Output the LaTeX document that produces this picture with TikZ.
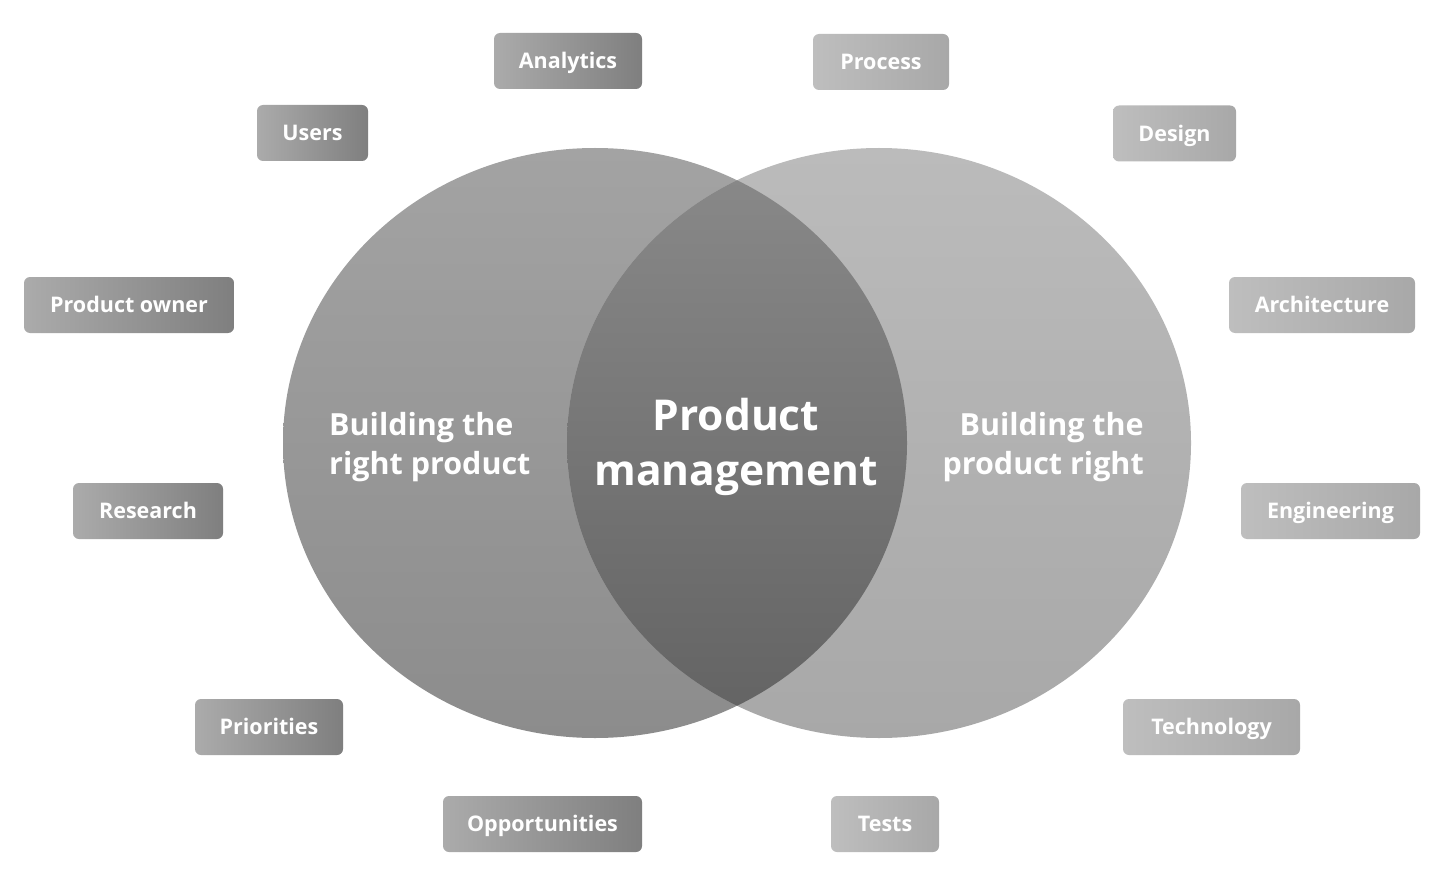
\documentclass[tikz,border=0pt]{standalone}
\usepackage{fontspec}
\setmainfont{Open Sans}
\usetikzlibrary{shapes.geometric}
\definecolor{lboxL}{HTML}{ABABAB}
\definecolor{lboxR}{HTML}{7F7F7F}
\definecolor{rboxL}{HTML}{BEBEBE}
\definecolor{rboxR}{HTML}{A8A8A8}
\definecolor{lcT}{HTML}{A3A3A3}
\definecolor{lcB}{HTML}{8C8C8C}
\definecolor{rcT}{HTML}{BBBBBB}
\definecolor{rcB}{HTML}{A8A8A8}
\definecolor{icT}{HTML}{8A8A8A}
\definecolor{icB}{HTML}{626262}
\tikzset{
  tag/.style={rectangle, rounded corners=6pt, minimum height=56pt, inner sep=0pt,
    text height=15.5pt, text depth=0pt,
    text=white, font=\fontsize{21.5}{25}\selectfont\bfseries},
  ltag/.style={tag, left color=lboxL, right color=lboxR},
  rtag/.style={tag, left color=rboxL, right color=rboxR},
  sidetext/.style={text=white, font=\fontsize{30.5}{39}\selectfont\bfseries, inner sep=0pt},
  centertext/.style={text=white, font=\fontsize{42.5}{55}\selectfont\bfseries, inner sep=0pt, align=center},
}
\begin{document}
\begin{tikzpicture}[x=1pt,y=-1pt]
\fill[white] (0,0) rectangle (1442,877);
\useasboundingbox (0,0) rectangle (1442,877);
% circles
\shade[top color=lcT, bottom color=lcB] (595,443) ellipse [x radius=312, y radius=295];
\shade[top color=rcT, bottom color=rcB] (879,443) ellipse [x radius=312, y radius=295];
\begin{scope}
  \clip (595,443) ellipse [x radius=312, y radius=295];
  \shade[top color=icT, bottom color=icB] (879,443) ellipse [x radius=312, y radius=295];
\end{scope}
% texts inside circles
\node[sidetext, align=left, anchor=west] (left) at (329,447) {Building the\\right product};
\node[sidetext, align=right, anchor=east] (right) at (1144,447) {Building the\\product right};
\node[centertext] (center) at (736,447) {Product\\management};
% tags
\node[ltag, minimum width=148pt] (analytics) at (568,61) {Analytics};
\node[rtag, minimum width=136pt] (process) at (881,62) {Process};
\node[ltag, minimum width=111pt] (users) at (312.5,133) {Users};
\node[rtag, minimum width=123pt] (design) at (1174.5,133.5) {Design};
\node[ltag, minimum width=210pt] (owner) at (129,305) {Product owner};
\node[rtag, minimum width=186pt] (arch) at (1322,305) {Architecture};
\node[ltag, minimum width=150pt] (research) at (148,511) {Research};
\node[rtag, minimum width=179pt] (eng) at (1330.5,511) {Engineering};
\node[ltag, minimum width=148pt] (priorities) at (269,727) {Priorities};
\node[rtag, minimum width=177pt] (tech) at (1211.5,727) {Technology};
\node[ltag, minimum width=199pt] (opp) at (542.5,824) {Opportunities};
\node[rtag, minimum width=108pt] (tests) at (885,824) {Tests};
\end{tikzpicture}
\end{document}
